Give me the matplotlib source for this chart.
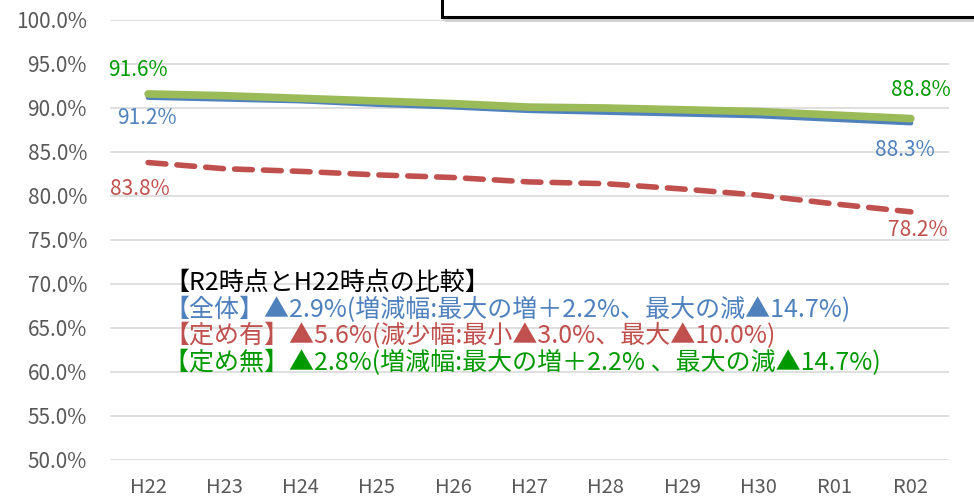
import matplotlib
matplotlib.use("Agg")
import matplotlib.pyplot as plt
from matplotlib.patches import Rectangle
from matplotlib.ticker import FuncFormatter

plt.rcParams['font.family'] = ['Noto Sans CJK JP', 'DejaVu Sans']

years = ["H22", "H23", "H24", "H25", "H26", "H27", "H28", "H29", "H30", "R01", "R02"]
nashi = [91.6, 91.4, 91.1, 90.8, 90.5, 90.1, 90.0, 89.8, 89.6, 89.2, 88.8]   # 定め無
zentai = [91.2, 91.0, 90.8, 90.4, 90.1, 89.7, 89.5, 89.3, 89.1, 88.7, 88.3]  # 全体
ari = [83.8, 83.1, 82.8, 82.4, 82.1, 81.6, 81.4, 80.8, 80.1, 79.1, 78.2]     # 定め有

notes = [
    ("【R2時点とH22時点の比較】", "black"),
    ("【全体】▲2.9%(増減幅:最大の増＋2.2%、最大の減▲14.7%)", "#4F81BD"),
    ("【定め有】▲5.6%(減少幅:最小▲3.0%、最大▲10.0%)", "#C0504D"),
    ("【定め無】▲2.8%(増減幅:最大の増＋2.2% 、最大の減▲14.7%)", "#009900"),
]

W, H = 974, 499
fig = plt.figure(figsize=(W / 100, H / 100), dpi=100)
ax = fig.add_axes([110 / W, (H - 460) / H, (949 - 110) / W, (460 - 20) / H])

x = list(range(len(years)))
ax.plot(x, nashi, color="#9BBB59", lw=5.5, solid_capstyle="round", zorder=3)
ax.plot(x, zentai, color="#4F81BD", lw=3.6, solid_capstyle="round", zorder=2)
ax.plot(x, ari, color="#C0504D", lw=4, linestyle=(0, (3.2, 2.0)),
        dash_capstyle="round", zorder=2)

ax.set_ylim(50, 100)
ax.set_xlim(-0.5, len(years) - 0.5)
ax.set_yticks([50 + 5 * i for i in range(11)])
ax.yaxis.set_major_formatter(FuncFormatter(lambda v, p: f"{v:.1f}%"))
ax.set_xticks(x)
ax.set_xticklabels(years)
ax.tick_params(axis="both", length=0, labelsize=15, colors="#595959")
ax.tick_params(axis="x", labelsize=14.5)
ax.tick_params(axis="y", pad=16.5)
ax.tick_params(axis="x", pad=12)
ax.grid(axis="y", color="#D9D9D9", lw=1.2)
ax.set_axisbelow(True)
for s in ax.spines.values():
    s.set_visible(False)

def lab(xi, dx, dy, color, series):
    ax.annotate(f"{series[xi]:.1f}%", (xi, series[xi]), xytext=(dx, dy),
                textcoords="offset pixels", ha="center", va="center",
                fontsize=15, color=color)

last = len(years) - 1
lab(0, -10, 24, "#009900", nashi)
lab(0, -1, -21, "#4F81BD", zentai)
lab(0, -8, -26, "#C0504D", ari)
lab(last, 10, 29, "#009900", nashi)
lab(last, -6, -27, "#4F81BD", zentai)
lab(last, 7, -18, "#C0504D", ari)

for i, (t, c) in enumerate(notes):
    fig.text(164 / W, 1 - (283 + 26.5 * i) / H, t, color=c, fontsize=18,
             ha="left", va="center")

# partially visible text box at top right
fig.patches.append(Rectangle((444 / W, 1 - 20 / H), (W + 10 - 444) / W, 30 / H,
                             transform=fig.transFigure, fill=False,
                             edgecolor="#D0D0D0", lw=2, zorder=4))
fig.patches.append(Rectangle((442 / W, 1 - 17 / H), (W + 10 - 442) / W, 30 / H,
                             transform=fig.transFigure, facecolor="white",
                             edgecolor="black", lw=2.2, zorder=5))

fig.savefig("out.png", dpi=100)
